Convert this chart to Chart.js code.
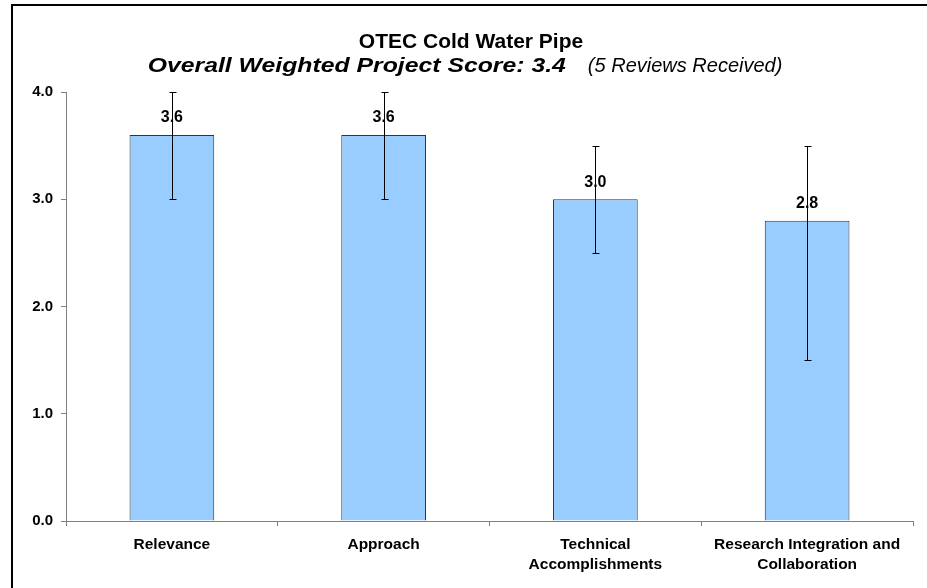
<!DOCTYPE html>
<html lang="en">
<head>
<meta charset="UTF-8">
<title>OTEC Cold Water Pipe</title>
<style>
    body { margin: 0; background: #fff; }
    #wrap { width: 927px; height: 588px; }
</style>
</head>
<body>
<div id="wrap"><canvas id="chart" width="927" height="588"></canvas></div>
<script src="https://cdn.jsdelivr.net/npm/chart.js"></script>
<script>
    // chart data
    var categories = ['Relevance', 'Approach', ['Technical', 'Accomplishments'], ['Research Integration and', 'Collaboration']];
    var scores = [3.6, 3.6, 3.0, 2.8];
    var errLow = [3.0, 3.0, 2.5, 1.5];
    var errHigh = [4.0, 4.0, 3.5, 3.5];
    var titleText = 'OTEC Cold Water Pipe';
    var subtitleBold = 'Overall Weighted Project Score: 3.4';
    var subtitleItalic = '(5 Reviews Received)';

    var FONT = '"Liberation Sans", Arial, sans-serif';

    // text drawn a little wider, like the original's rendering
    function wideText(ctx, text, x, y, stretch) {
        ctx.save();
        ctx.translate(x, y);
        ctx.scale(stretch, 1);
        ctx.fillText(text, 0, 0);
        ctx.restore();
        return ctx.measureText(text).width * stretch;
    }

    // frame, titles, error bars and value labels
    var extras = {
        id: 'extras',
        afterDraw: function (chart) {
            var ctx = chart.ctx;
            var y = chart.scales.y;
            var meta = chart.getDatasetMeta(0);
            ctx.save();

            // frame
            ctx.strokeStyle = '#000';
            ctx.lineWidth = 2;
            ctx.beginPath();
            ctx.moveTo(12, 600);
            ctx.lineTo(12, 5);
            ctx.lineTo(940, 5);
            ctx.stroke();

            // titles
            ctx.fillStyle = '#000';
            ctx.textBaseline = 'alphabetic';
            ctx.textAlign = 'center';
            ctx.font = 'bold 20px ' + FONT;
            ctx.save();
            ctx.translate(471, 48);
            ctx.scale(1.05, 1);
            ctx.fillText(titleText, 0, 0);
            ctx.restore();

            var cx = 465;
            ctx.textAlign = 'left';
            var boldStretch = 1.18, italStretch = 1.0, gap = 22;
            ctx.font = 'italic bold 21px ' + FONT;
            var w1 = ctx.measureText(subtitleBold).width * boldStretch;
            ctx.font = 'italic 20px ' + FONT;
            var w2 = ctx.measureText(subtitleItalic).width * italStretch;
            var sx = cx - (w1 + gap + w2) / 2;
            ctx.font = 'italic bold 21px ' + FONT;
            wideText(ctx, subtitleBold, sx, 72, boldStretch);
            ctx.font = 'italic 20px ' + FONT;
            wideText(ctx, subtitleItalic, sx + w1 + gap, 72, italStretch);

            // error bars
            ctx.strokeStyle = '#000';
            ctx.lineWidth = 1;
            meta.data.forEach(function (bar, i) {
                var x = Math.round(bar.x) + 0.5;
                var top = Math.round(y.getPixelForValue(errHigh[i])) + 0.5;
                var bot = Math.round(y.getPixelForValue(errLow[i])) + 0.5;
                ctx.beginPath();
                ctx.moveTo(x, top);
                ctx.lineTo(x, bot);
                ctx.moveTo(x - 3, top);
                ctx.lineTo(x + 4, top);
                ctx.moveTo(x - 3, bot);
                ctx.lineTo(x + 4, bot);
                ctx.stroke();
            });

            // value labels
            ctx.font = 'bold 16px ' + FONT;
            ctx.textAlign = 'center';
            ctx.textBaseline = 'bottom';
            meta.data.forEach(function (bar, i) {
                ctx.fillText(scores[i].toFixed(1), bar.x, bar.y - 9);
            });
            ctx.restore();
        }
    };

    new Chart(document.getElementById('chart').getContext('2d'), {
        type: 'bar',
        data: {
            labels: categories,
            datasets: [{
                data: scores,
                backgroundColor: '#99CCFF',
                borderColor: '#333',
                borderWidth: 1,
                categoryPercentage: 1.0,
                barPercentage: 0.4
            }]
        },
        options: {
            responsive: false,
            animation: false,
            layout: { padding: { top: 92, right: 14, left: 0, bottom: 0 } },
            plugins: {
                legend: { display: false },
                title: { display: false },
                tooltip: { enabled: false }
            },
            scales: {
                x: {
                    afterFit: function (s) { s.height = 67; },
                    grid: { drawOnChartArea: false, tickLength: 5, color: '#808080', offset: true },
                    border: { color: '#808080', width: 1 },
                    ticks: {
                        color: '#000',
                        font: { family: FONT, size: 15.5, weight: 'bold', lineHeight: 1.33 },
                        padding: 8,
                        maxRotation: 0,
                        autoSkip: false
                    }
                },
                y: {
                    min: 0,
                    max: 4,
                    afterFit: function (s) { s.width = 66; },
                    grid: { drawOnChartArea: false, tickLength: 5, color: '#808080' },
                    border: { color: '#808080', width: 1 },
                    ticks: {
                        stepSize: 1,
                        color: '#000',
                        padding: 8,
                        font: { family: FONT, size: 15, weight: 'bold' },
                        callback: function (v) { return v.toFixed(1); }
                    }
                }
            }
        },
        plugins: [extras]
    });
</script>
</body>
</html>
